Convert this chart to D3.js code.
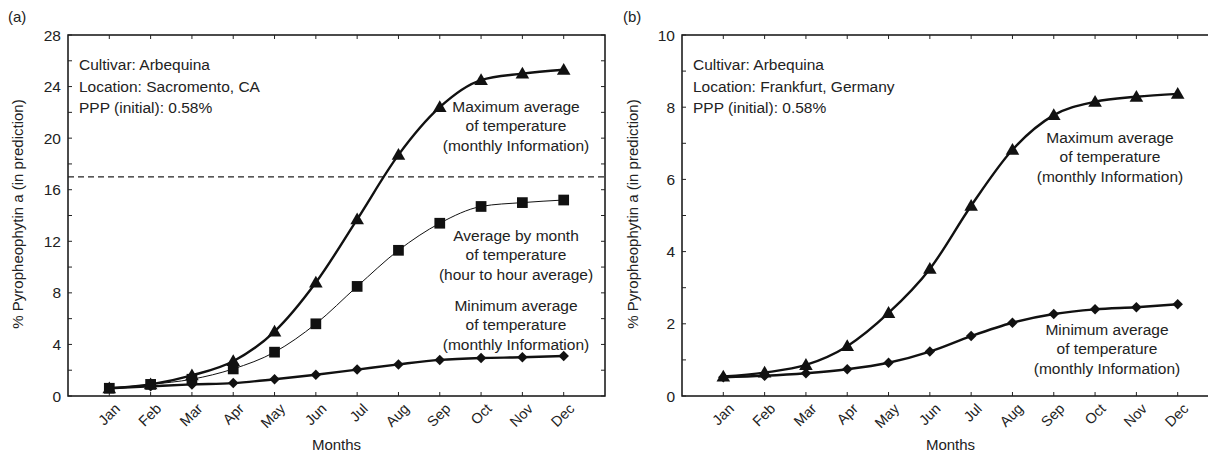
<!DOCTYPE html>
<html>
<head>
<meta charset="utf-8">
<script src="https://cdn.jsdelivr.net/npm/d3@7"></script>
<style>
  body { margin: 0; background: #fff; }
  svg { display: block; font-family: "Liberation Sans", Arial, Helvetica, sans-serif; }
  text { fill: #222; }
</style>
</head>
<body>
<svg id="chart" width="1208" height="455"></svg>
<script>
const months = ["Jan","Feb","Mar","Apr","May","Jun","Jul","Aug","Sep","Oct","Nov","Dec"];

// Panel (a): Sacramento
const aMax = [0.6, 0.9, 1.6, 2.7, 5.0, 8.8, 13.7, 18.7, 22.4, 24.5, 25.0, 25.3];
const aAvg = [0.6, 0.9, 1.3, 2.1, 3.4, 5.6, 8.5, 11.3, 13.4, 14.7, 15.0, 15.2];
const aMin = [0.6, 0.75, 0.9, 1.0, 1.3, 1.65, 2.05, 2.45, 2.8, 2.95, 3.0, 3.1];
const aThreshold = 17;
const aYTicks = [0, 4, 8, 12, 16, 20, 24, 28];
const aInfo = ["Cultivar: Arbequina", "Location: Sacromento, CA", "PPP (initial): 0.58%"];

// Panel (b): Frankfurt
const bMax = [0.54, 0.65, 0.86, 1.38, 2.3, 3.52, 5.27, 6.82, 7.78, 8.15, 8.29, 8.37];
const bMin = [0.52, 0.56, 0.63, 0.74, 0.92, 1.23, 1.66, 2.03, 2.27, 2.4, 2.46, 2.54];
const bYTicks = [0, 2, 4, 6, 8, 10];
const bInfo = ["Cultivar: Arbequina", "Location: Frankfurt, Germany", "PPP (initial): 0.58%"];

const maxLabel = ["Maximum average", "of temperature", "(monthly Information)"];
const avgLabel = ["Average by month", "of temperature", "(hour to hour average)"];
const minLabel = ["Minimum average", "of temperature", "(monthly Information)"];

const svg = d3.select("#chart");

function drawPanel(cfg) {
  const g = svg.append("g");
  const x = d3.scaleLinear().domain([0, 13]).range([cfg.x0, cfg.x1]);
  const y = d3.scaleLinear().domain([0, cfg.yMax]).range([396, 35]);
  const minorTicks = d3.range(0, cfg.yMax + 0.001, cfg.minorStep);
  const monthIdx = months.map((m, i) => i + 1);

  // frame
  g.append("rect").attr("x", cfg.x0).attr("y", 35)
    .attr("width", cfg.x1 - cfg.x0).attr("height", 361)
    .attr("fill", "none").attr("stroke", "#111").attr("stroke-width", 1.5);

  // inward ticks
  const tl = 4;
  g.selectAll(".ytl").data(minorTicks).join("line")
    .attr("x1", cfg.x0).attr("x2", cfg.x0 + tl)
    .attr("y1", d => y(d)).attr("y2", d => y(d))
    .attr("stroke", "#222").attr("stroke-width", 1);
  g.selectAll(".ytr").data(minorTicks).join("line")
    .attr("x1", cfg.x1).attr("x2", cfg.x1 - tl)
    .attr("y1", d => y(d)).attr("y2", d => y(d))
    .attr("stroke", "#222").attr("stroke-width", 1);
  g.selectAll(".xtb").data(monthIdx).join("line")
    .attr("x1", d => x(d)).attr("x2", d => x(d))
    .attr("y1", 396).attr("y2", 396 - tl)
    .attr("stroke", "#222").attr("stroke-width", 1);
  g.selectAll(".xtt").data(monthIdx).join("line")
    .attr("x1", d => x(d)).attr("x2", d => x(d))
    .attr("y1", 35).attr("y2", 35 + tl)
    .attr("stroke", "#222").attr("stroke-width", 1);

  // y tick labels
  g.selectAll(".ylab").data(cfg.yTicks).join("text")
    .attr("x", cfg.x0 - 7).attr("y", d => y(d)).attr("dy", "0.36em")
    .attr("text-anchor", "end").attr("font-size", 15.5)
    .text(d => d);

  // month labels
  g.selectAll(".mlab").data(months).join("text")
    .attr("transform", (d, i) => `translate(${x(i + 1) + 8},${406}) rotate(-45)`)
    .attr("text-anchor", "end").attr("font-size", 14.5).attr("dy", "0.35em")
    .text(d => d);

  // axis titles
  g.append("text").attr("x", (x(0) + x(13)) / 2).attr("y", 450)
    .attr("text-anchor", "middle").attr("font-size", 15).text("Months");
  g.append("text")
    .attr("transform", `translate(${cfg.yTitleX},214) rotate(-90)`)
    .attr("text-anchor", "middle").attr("font-size", 15)
    .text("% Pyropheophytin a (in prediction)");

  // panel tag
  g.append("text").attr("x", cfg.tagX).attr("y", 22).attr("font-size", 15).text(cfg.tag);

  // info
  g.selectAll(".info").data(cfg.info).join("text")
    .attr("x", cfg.x0 + 11).attr("y", (d, i) => 70 + i * 21.5)
    .attr("font-size", 15.5).text(d => d);

  // threshold line
  if (cfg.threshold != null) {
    g.append("line").attr("x1", cfg.x0).attr("x2", cfg.x1)
      .attr("y1", y(cfg.threshold)).attr("y2", y(cfg.threshold))
      .attr("stroke", "#222").attr("stroke-width", 1.2).attr("stroke-dasharray", "6,4");
  }

  const line = d3.line().x((d, i) => x(i + 1)).y(d => y(d)).curve(d3.curveMonotoneX);

  cfg.series.forEach(s => {
    g.append("path").datum(s.values).attr("d", line)
      .attr("fill", "none").attr("stroke", "#111").attr("stroke-width", s.width);
    const sym = d3.symbol().type(s.symbol).size(s.size);
    g.selectAll(null).data(s.values).join("path")
      .attr("d", sym)
      .attr("transform", (d, i) => `translate(${x(i + 1)},${y(d) + (s.dy || 0)})${s.rot ? " rotate(45)" : ""}`)
      .attr("fill", "#111");
  });

  cfg.labels.forEach(l => {
    g.selectAll(null).data(l.lines).join("text")
      .attr("x", l.cx).attr("y", (d, i) => l.y + i * 19.3)
      .attr("text-anchor", "middle").attr("font-size", 15.5).text(d => d);
  });
}

drawPanel({
  x0: 68, x1: 605, yMax: 28, minorStep: 2, yTicks: aYTicks,
  yTitleX: 23, tag: "(a)", tagX: 8, info: aInfo, threshold: aThreshold,
  series: [
    { values: aMin, symbol: d3.symbolSquare, size: 55, rot: true, width: 2.4 },
    { values: aAvg, symbol: d3.symbolSquare, size: 115, width: 1 },
    { values: aMax, symbol: d3.symbolTriangle, size: 80, width: 2.4, dy: 1 }
  ],
  labels: [
    { lines: maxLabel, cx: 516, y: 112 },
    { lines: avgLabel, cx: 516, y: 241 },
    { lines: minLabel, cx: 516, y: 311 }
  ]
});

drawPanel({
  x0: 682, x1: 1219, yMax: 10, minorStep: 1, yTicks: bYTicks,
  yTitleX: 638, tag: "(b)", tagX: 623, info: bInfo, threshold: null,
  series: [
    { values: bMin, symbol: d3.symbolSquare, size: 55, rot: true, width: 2.4 },
    { values: bMax, symbol: d3.symbolTriangle, size: 80, width: 2.4, dy: 1 }
  ],
  labels: [
    { lines: maxLabel, cx: 1110, y: 143 },
    { lines: minLabel, cx: 1107, y: 335 }
  ]
});
</script>
</body>
</html>
